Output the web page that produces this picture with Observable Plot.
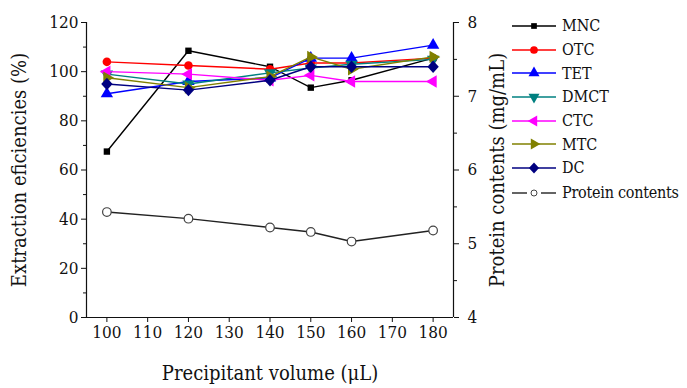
<!DOCTYPE html>
<html>
<head>
<meta charset="utf-8">
<script src="https://cdn.jsdelivr.net/npm/d3@7"></script>
<script src="https://cdn.jsdelivr.net/npm/@observablehq/plot@0.6"></script>
<style>
  html, body { margin: 0; padding: 0; background: #fff; }
  #wrap { position: relative; width: 687px; height: 388px; font-family: "DejaVu Serif Condensed", "DejaVu Serif", serif; font-stretch: condensed; }
  #wrap svg text { font-family: "DejaVu Serif Condensed", "DejaVu Serif", serif !important; font-stretch: condensed; }
  #legend { position: absolute; left: 510px; top: 14px; }
  .row { display: flex; align-items: center; height: 23.7px; font-size: 16px; color: #111; white-space: nowrap; }
  .row svg { display: block; margin-right: 4px; flex: none; }
</style>
</head>
<body>
<div id="wrap"><div id="legend"></div></div>
<script>
// ---- data ----
const volumes = [100, 120, 140, 150, 160, 180];
const seriesNames = ["MNC", "OTC", "TET", "DMCT", "CTC", "MTC", "DC"];
const MNC  = [67.5, 108.5, 102.0, 93.5, 96.5, 105.5];
const OTC  = [104.0, 102.5, 101.0, 103.5, 103.5, 105.5];
const TET  = [91.0, 96.0, 97.5, 105.5, 105.5, 110.8];
const DMCT = [99.0, 95.0, 99.5, 101.5, 103.0, 105.0];
const CTC  = [100.0, 99.0, 96.5, 98.5, 96.0, 96.0];
const MTC  = [97.5, 93.5, 98.0, 106.0, 101.0, 106.0];
const DC   = [95.0, 92.5, 96.5, 102.0, 102.0, 102.0];
const proteinContents = [5.43, 5.34, 5.22, 5.16, 5.03, 5.18];
const xTicks = [100, 110, 120, 130, 140, 150, 160, 170, 180];
const leftTicks = [0, 20, 40, 60, 80, 100, 120];
const rightTicks = [4, 5, 6, 7, 8];
const seriesValues = {MNC, OTC, TET, DMCT, CTC, MTC, DC};
const seriesColors = ["#000000", "#ff0000", "#0000ff", "#008080", "#ff00ff", "#808000", "#000080"];

const FONT = "'DejaVu Serif Condensed', 'DejaVu Serif', serif";

const toLeft = p => (p - 4) * 30;

function rotated(sym, angle) {
  const c = Math.cos(angle), s = Math.sin(angle);
  return {
    draw(ctx, size) {
      const w = {
        moveTo: (x, y) => ctx.moveTo(x * c - y * s, x * s + y * c),
        lineTo: (x, y) => ctx.lineTo(x * c - y * s, x * s + y * c),
        closePath: () => ctx.closePath()
      };
      sym.draw(w, size);
    }
  };
}
const diamondSym = {
  draw(ctx, size) {
    const r = Math.sqrt(size / 2) * 1.05;
    ctx.moveTo(0, -r * 1.1); ctx.lineTo(r, 0); ctx.lineTo(0, r * 1.1); ctx.lineTo(-r, 0); ctx.closePath();
  }
};
const seriesSymbols = [
  d3.symbolSquare,
  d3.symbolCircle,
  d3.symbolTriangle,
  rotated(d3.symbolTriangle, Math.PI),
  rotated(d3.symbolTriangle, -Math.PI / 2),
  rotated(d3.symbolTriangle, Math.PI / 2),
  diamondSym
];
const seriesR = [3.6, 4.3, 4.6, 4.6, 4.6, 4.6, 4.3];

const rows = [];
seriesNames.forEach(name => {
  seriesValues[name].forEach((v, i) => rows.push({series: name, volume: volumes[i], value: v}));
});
const protein = volumes.map((v, i) => ({volume: v, value: toLeft(proteinContents[i])}));

const marks = [];
seriesNames.forEach((name, k) => {
  const d = rows.filter(r => r.series === name);
  marks.push(Plot.line(d, {x: "volume", y: "value", stroke: seriesColors[k], strokeWidth: 1.4}));
  marks.push(Plot.dot(d, {x: "volume", y: "value", fill: seriesColors[k], stroke: "none", symbol: seriesSymbols[k], r: seriesR[k]}));
});
marks.push(Plot.line(protein, {x: "volume", y: "value", stroke: "#222", strokeWidth: 1.4}));
marks.push(Plot.dot(protein, {x: "volume", y: "value", fill: "white", stroke: "#444", strokeWidth: 1.2, r: 4.3}));

const xDomain = [95, 185];
const chart = Plot.plot({
  width: 687,
  height: 388,
  marginLeft: 86,
  marginRight: 234,
  marginTop: 22,
  marginBottom: 71,
  style: {fontFamily: FONT, background: "white", color: "#111"},
  x: {domain: xDomain},
  y: {domain: [0, 120]},
  marks: [
    Plot.ruleX(xDomain, {stroke: "#111", strokeWidth: 1.2}),
    Plot.ruleY([0], {stroke: "#111", strokeWidth: 1.2}),
    Plot.axisX({ticks: xTicks, tickSize: 5, tickPadding: 3, fontSize: 17, label: null}),
    Plot.axisX({ticks: [], tickSize: 0, fontSize: 20, label: "Precipitant volume (μL)", labelAnchor: "center", labelArrow: "none", labelOffset: 62}),
    Plot.axisY({ticks: leftTicks, tickSize: 5, tickPadding: 3, fontSize: 17, label: null}),
    Plot.axisY({ticks: d3.range(10, 120, 20), tickSize: 3, tickFormat: () => "", label: null}),
    Plot.axisY({ticks: [], tickSize: 0, fontSize: 20, label: "Extraction eficiencies (%)", labelAnchor: "center", labelArrow: "none", labelOffset: 75}),
    Plot.axisY({anchor: "right", ticks: rightTicks.map(toLeft), tickFormat: d => String(4 + d / 30), tickSize: 5, tickPadding: 9, fontSize: 17, label: null}),
    Plot.axisY({anchor: "right", ticks: [4.5, 5.5, 6.5, 7.5].map(toLeft), tickSize: 3, tickFormat: () => "", label: null}),
    Plot.axisY({anchor: "right", ticks: [], tickSize: 0, fontSize: 20, label: "Protein contents (mg/mL)", labelAnchor: "center", labelArrow: "none", labelOffset: 50}),
    ...marks
  ]
});
document.getElementById("wrap").prepend(chart);

const legend = d3.select("#legend");
const legendItems = seriesNames.map((n, k) => ({name: n, color: seriesColors[k], symbol: seriesSymbols[k], r: seriesR[k]}));
legendItems.forEach(it => {
  const row = legend.append("div").attr("class", "row");
  const s = row.append("svg").attr("width", 48).attr("height", 16);
  s.append("line").attr("x1", 2).attr("x2", 46).attr("y1", 8).attr("y2", 8).attr("stroke", it.color).attr("stroke-width", 1.4);
  s.append("path").attr("transform", "translate(24,8)")
    .attr("d", d3.symbol(it.symbol, it.r * it.r * Math.PI * 0.8)()).attr("fill", it.color);
  row.append("span").text(it.name);
});
{
  const row = legend.append("div").attr("class", "row").style("margin-top", "1px");
  const s = row.append("svg").attr("width", 48).attr("height", 16);
  s.append("line").attr("x1", 2).attr("x2", 17).attr("y1", 8).attr("y2", 8).attr("stroke", "#222").attr("stroke-width", 1.4);
  s.append("line").attr("x1", 31).attr("x2", 46).attr("y1", 8).attr("y2", 8).attr("stroke", "#222").attr("stroke-width", 1.4);
  s.append("circle").attr("cx", 24).attr("cy", 8).attr("r", 3).attr("fill", "white").attr("stroke", "#444").attr("stroke-width", 1);
  row.append("span").style("letter-spacing", "-0.25px").text("Protein contents");
}
</script>
</body>
</html>
